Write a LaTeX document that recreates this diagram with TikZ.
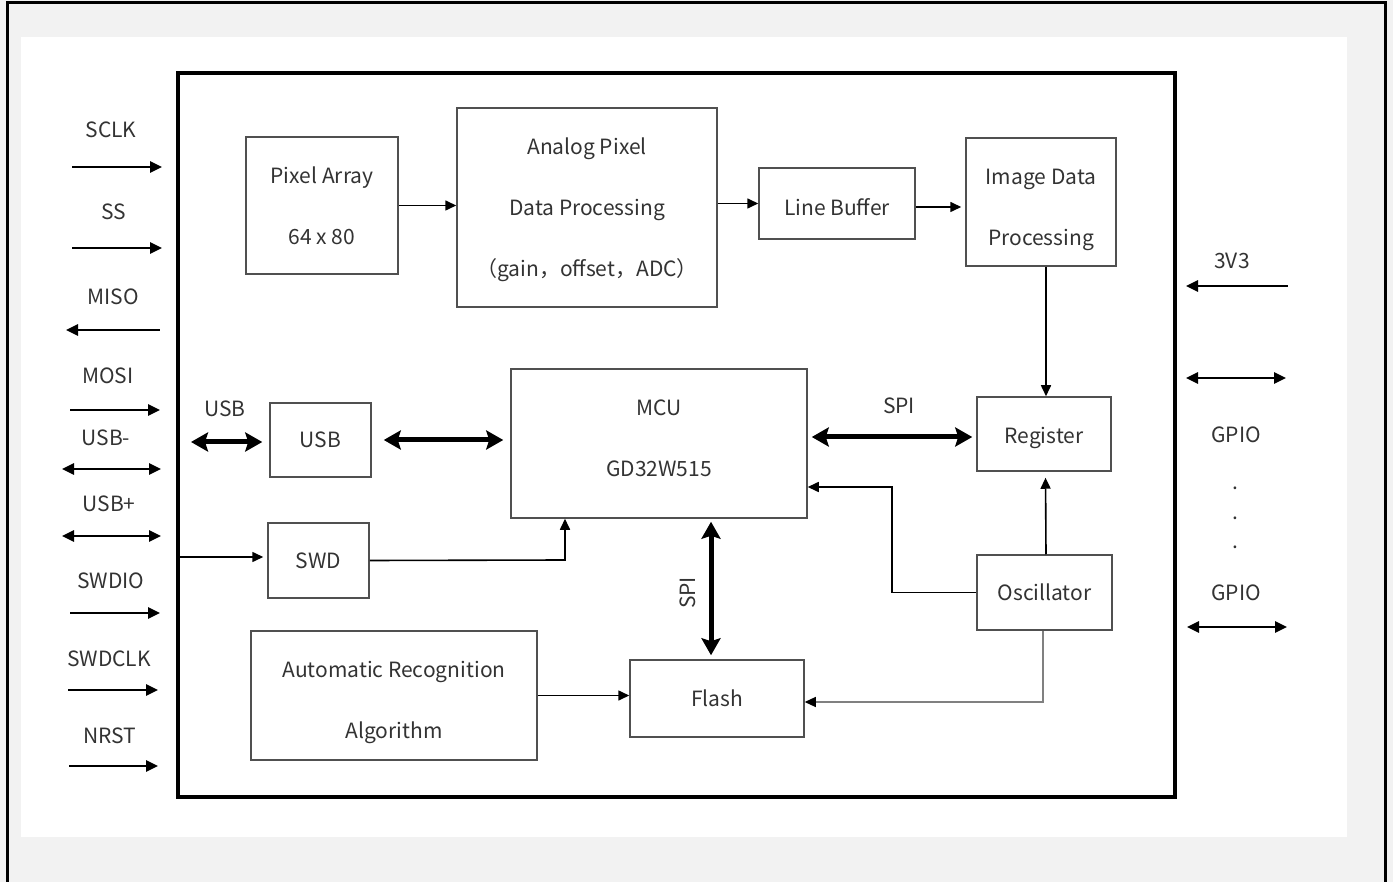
\documentclass[tikz,border=0pt]{standalone}
\usepackage{fontspec}
\setmainfont{Noto Sans CJK SC}
\usetikzlibrary{arrows.meta}
\definecolor{bggray}{HTML}{F2F2F2}
\definecolor{txt}{HTML}{333333}
\definecolor{boxline}{HTML}{505050}
\tikzset{
  lbl/.style={text=txt, font=\fontsize{21}{61}\selectfont, inner sep=0pt},
  mlbl/.style={text=txt, font=\fontsize{21}{61}\selectfont, inner sep=0pt, align=center},
  box/.style={draw=boxline, line width=1.5pt, text=txt, align=center,
    font=\fontsize{21}{61}\selectfont, inner sep=0pt},
  sig/.style={line width=2.6pt, -{Triangle[length=12pt,width=11pt]}},
  sigl/.style={line width=2.6pt, {Triangle[length=12pt,width=11pt]}-},
  sigb/.style={line width=2.6pt, {Triangle[length=12pt,width=11pt]}-{Triangle[length=12pt,width=11pt]}},
  conn/.style={line width=1.6pt, -{Triangle[length=11pt,width=10pt]}},
  fat/.style={line width=5pt, {Stealth[length=17pt,width=19pt,inset=3pt]}-{Stealth[length=17pt,width=19pt,inset=3pt]}}
}
\begin{document}
\begin{tikzpicture}[x=1pt,y=-1pt]
\useasboundingbox (0,0) rectangle (1393,882);
\fill[bggray] (0,0) rectangle (1393,882);
\draw[line width=3pt] (7,882) -- (7,3) -- (1385,3) -- (1385,882);
\fill[white] (21,37) rectangle (1347,837);
% main frame
\draw[line width=3.2pt] (178,73) rectangle (1175,797);
\coordinate (mainL) at (178,557);

% boxes
\node[box, minimum width=152pt, minimum height=137pt] (pix) at (322,205.5) {Pixel Array\\64 x 80};
\node[box, minimum width=260pt, minimum height=199pt] (apd) at (587,207.5) {};
\node[mlbl] (apdt) at (587,209.5) {Analog Pixel\\Data Processing\\（gain，offset，ADC）};
\node[box, minimum width=156pt, minimum height=71pt, text height=24pt] (lb) at (837,203.5) {Line Buffer};
\node[box, minimum width=150pt, minimum height=128pt] (idp) at (1041,202) {};
\node[mlbl] (idpt) at (1041,210) {Image Data\\Processing};
\node[box, minimum width=101pt, minimum height=74pt] (usbb) at (320.5,440) {USB};
\node[box, minimum width=296pt, minimum height=149pt] (mcu) at (659,443.5) {};
\node[lbl] (mcut) at (659,433.5) {\begin{tabular}{c}MCU\\GD32W515\end{tabular}};
\node[box, minimum width=134pt, minimum height=74pt, text height=24pt] (reg) at (1044,434) {Register};
\node[box, minimum width=101pt, minimum height=75pt] (swd) at (318.5,560.5) {SWD};
\node[box, minimum width=135pt, minimum height=75pt] (osc) at (1044.5,592.5) {Oscillator};
\node[box, minimum width=286pt, minimum height=129pt] (alg) at (394,695.5) {};
\node[mlbl] (algt) at (394,702) {Automatic Recognition\\Algorithm};
\node[box, minimum width=174pt, minimum height=77pt] (flash) at (717,698.5) {Flash};

% internal connectors
\draw[conn] (pix.east) -- (pix.east -| apd.west);
\draw[conn] (lb.west -| apd.east) -- (lb.west);
\draw[conn, shorten >=4pt] ([yshift=-3.5pt]lb.east) -- ([yshift=-3.5pt]lb.east -| idp.west);
\draw[conn] ([xshift=5pt]idp.south) -- ([xshift=5pt]idp.south |- reg.north);
\draw[conn, shorten >=6pt] ([xshift=1.5pt]osc.north) -- ([xshift=1.5pt]reg.south);
\coordinate (oscbend) at (892,487);
\draw[conn] (osc.west) -| (oscbend) -- (oscbend -| mcu.east);
\draw[line width=1.2pt, draw=gray, -{Triangle[length=11pt,width=10pt,color=black]}] ([xshift=-1.5pt]osc.south) |- ([yshift=-3.5pt]flash.east);
\coordinate (swdbend) at (565,560);
\draw[conn] (swd.east) -- (swdbend) -- (swdbend |- mcu.south);
\draw[conn, shorten >=4pt] (mainL) -- (mainL -| swd.west);
\draw[conn] (alg.east) -- (alg.east -| flash.west);

% fat arrows
\coordinate (usbL) at (191,442);
\node[lbl] (usbl) at (225,409) {USB};
\draw[fat, shorten >=7pt] (usbL) -- (usbL -| usbb.west);
\draw[fat, shorten <=12pt, shorten >=7pt] (usbb.east) -- (usbb.east -| mcu.west);
\draw[fat, shorten <=4pt, shorten >=4pt] ([yshift=-3pt]reg.west -| mcu.east) -- ([yshift=-3pt]reg.west);
\node[lbl] (spi1) at (899,406) {SPI};
\draw[fat, shorten <=3pt, shorten >=4pt] ([xshift=52pt]mcu.south) -- ([xshift=52pt]mcu.south |- flash.north);
\node[lbl, rotate=90] (spi2) at (688,593) {SPI};

% left signals
\node[lbl] (l1) at (111,130) {SCLK};
\coordinate (a1) at (72,167); \coordinate (b1) at (162,167);
\draw[sig] (a1) -- (b1);
\node[lbl] (l2) at (114,212) {SS};
\coordinate (a2) at (72,248); \coordinate (b2) at (162,248);
\draw[sig] (a2) -- (b2);
\node[lbl] (l3) at (113,297) {MISO};
\coordinate (a3) at (66,330); \coordinate (b3) at (160,330);
\draw[sigl] (a3) -- (b3);
\node[lbl] (l4) at (108,376) {MOSI};
\coordinate (a4) at (70,410); \coordinate (b4) at (160,410);
\draw[sig] (a4) -- (b4);
\node[lbl] (l5) at (106,438) {USB-};
\coordinate (a5) at (62,469); \coordinate (b5) at (161,469);
\draw[sigb] (a5) -- (b5);
\node[lbl] (l6) at (109,504) {USB+};
\coordinate (a6) at (62,536); \coordinate (b6) at (161,536);
\draw[sigb] (a6) -- (b6);
\node[lbl] (l7) at (111,581) {SWDIO};
\coordinate (a7) at (70,613); \coordinate (b7) at (160,613);
\draw[sig] (a7) -- (b7);
\node[lbl] (l8) at (109,659) {SWDCLK};
\coordinate (a8) at (68,690); \coordinate (b8) at (158,690);
\draw[sig] (a8) -- (b8);
\node[lbl] (l9) at (110,736) {NRST};
\coordinate (a9) at (69,766); \coordinate (b9) at (158,766);
\draw[sig] (a9) -- (b9);

% right signals
\node[lbl] (r1) at (1232,261) {3V3};
\coordinate (c1) at (1186,286); \coordinate (d1) at (1288,286);
\draw[sigl] (c1) -- (d1);
\coordinate (c2) at (1186,378); \coordinate (d2) at (1286,378);
\draw[sigb] (c2) -- (d2);
\node[lbl] (r2) at (1236,435) {GPIO};
\node[lbl] (dots) at (1235,507) {\begin{tabular}{c}.\\[-31.5pt].\\[-31.5pt].\end{tabular}};
\node[lbl] (r3) at (1236,593) {GPIO};
\coordinate (c3) at (1187,627); \coordinate (d3) at (1287,627);
\draw[sigb] (c3) -- (d3);
\end{tikzpicture}
\end{document}
